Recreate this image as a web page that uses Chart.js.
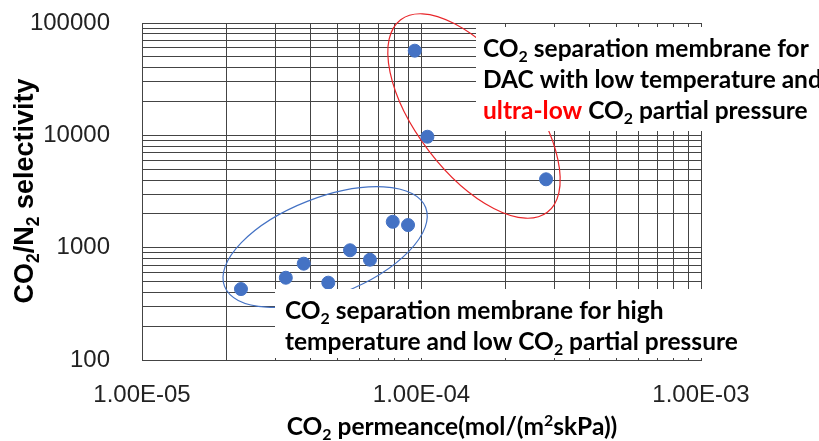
<!DOCTYPE html>
<html>
<head>
<meta charset="utf-8">
<script src="https://cdn.jsdelivr.net/npm/chart.js@4.4.1/dist/chart.umd.min.js"></script>
<style>
  body { margin: 0; background: #fff; }
  canvas { display: block; }
</style>
</head>
<body>
<canvas id="myChart" width="819" height="441"></canvas>
<script>
// CO2 permeance (mol/(m2 s kPa)) and CO2/N2 selectivity
var permeance   = [2.26e-5, 3.27e-5, 3.79e-5, 4.64e-5, 5.55e-5, 6.54e-5, 7.89e-5, 8.95e-5, 9.46e-5, 1.05e-4, 2.79e-4]
var selectivity = [428, 540, 720, 488, 948, 781, 1700, 1590, 56700, 9720, 4060]

var xTickVals   = [1e-5, 1e-4, 1e-3]
var xTickLabels = ['1.00E-05', '1.00E-04', '1.00E-03']
var yTickVals   = [100, 1000, 10000, 100000]
var yTickLabels = ['100', '1000', '10000', '100000']

// the two groups circled on the chart (centre in data units)
var blueGroup = { x: 4.52e-5, y: 1014 }
var redGroup  = { x: 1.541e-4, y: 14860 }

function labelFor(vals, labels, v) {
  for (var i = 0; i < vals.length; i++) {
    if (Math.abs(Math.log10(v) - Math.log10(vals[i])) < 1e-6) return labels[i]
  }
  return ''
}

// minor grid: 1..9 in every decade
function decadeTicks(fromExp, toExp) {
  var t = []
  for (var e = fromExp; e < toExp; e++) {
    for (var m = 1; m < 10; m++) t.push({ value: m * Math.pow(10, e) })
  }
  t.push({ value: Math.pow(10, toExp) })
  return t
}

function richWidth(ctx, parts, size, family) {
  var w = 0
  parts.forEach(function (p) {
    var s = (p.sub || p.sup) ? size * 0.65 : size
    ctx.font = 'bold ' + s + 'px ' + family
    w += ctx.measureText(p.t).width
  })
  return w
}

function richLine(ctx, x, y, parts, size, family) {
  var cx = x
  ctx.textAlign = 'left'
  ctx.textBaseline = 'alphabetic'
  parts.forEach(function (p) {
    var s = (p.sub || p.sup) ? size * 0.65 : size
    ctx.font = 'bold ' + s + 'px ' + family
    ctx.fillStyle = p.color || '#000'
    var dy = p.sub ? size * 0.22 : (p.sup ? -size * 0.36 : 0)
    ctx.fillText(p.t, cx, y + dy)
    cx += ctx.measureText(p.t).width
  })
}

function ellipse(ctx, chart, c, a, b, angle, color) {
  var px = chart.scales.x.getPixelForValue(c.x)
  var py = chart.scales.y.getPixelForValue(c.y)
  ctx.save()
  ctx.strokeStyle = color
  ctx.lineWidth = 1.2
  ctx.beginPath()
  ctx.ellipse(px, py, a, b, angle * Math.PI / 180, 0, 2 * Math.PI)
  ctx.stroke()
  ctx.restore()
}

var LATO = 'Lato, "Open Sans", sans-serif'
var ARIAL = '"Liberation Sans", Arial, sans-serif'

var notes = {
  id: 'notes',
  beforeDatasetsDraw: function (chart) {
    var ctx = chart.ctx
    ellipse(ctx, chart, blueGroup, 108, 49, -21.4, '#4472C4')
    ellipse(ctx, chart, redGroup, 121, 57, 52.7, '#E8262A')
  },
  afterDatasetsDraw: function (chart) {
    var ctx = chart.ctx
    ctx.save()
    ctx.fillStyle = '#fff'
    ctx.fillRect(476, 27, 343, 104)
    ctx.fillRect(275, 289, 470, 69)

    richLine(ctx, 483, 57, [{ t: 'CO' }, { t: '2', sub: true }, { t: ' separation membrane for' }], 24.5, LATO)
    richLine(ctx, 483, 88, [{ t: 'DAC with low temperature and' }], 24.5, LATO)
    richLine(ctx, 483, 119, [{ t: 'ultra-low', color: '#FF0000' }, { t: ' CO' }, { t: '2', sub: true }, { t: ' partial pressure' }], 24.5, LATO)

    richLine(ctx, 285, 319, [{ t: 'CO' }, { t: '2', sub: true }, { t: ' separation membrane for high' }], 24.5, LATO)
    richLine(ctx, 285, 350, [{ t: 'temperature and low CO' }, { t: '2', sub: true }, { t: ' partial pressure' }], 24.5, LATO)

    // x axis title
    var xt = [{ t: 'CO' }, { t: '2', sub: true }, { t: ' permeance(mol/(m' }, { t: '2', sup: true }, { t: 'skPa))' }]
    var w = richWidth(ctx, xt, 24.5, LATO)
    richLine(ctx, 452 - w / 2, 435, xt, 24.5, LATO)

    // y axis title
    var yt = [{ t: 'CO' }, { t: '2', sub: true }, { t: '/N' }, { t: '2', sub: true }, { t: ' selectivity' }]
    ctx.translate(33, 191)
    ctx.rotate(-Math.PI / 2)
    var wy = richWidth(ctx, yt, 27, ARIAL)
    richLine(ctx, -wy / 2, 0, yt, 27, ARIAL)
    ctx.restore()
  }
}

var ctx = document.getElementById('myChart').getContext('2d')
var chart = new Chart(ctx, {
  type: 'scatter',
  data: {
    datasets: [{
      data: permeance.map(function (x, i) { return { x: x, y: selectivity[i] } }),
      backgroundColor: '#4472C4',
      borderColor: '#4472C4',
      pointRadius: 6.5,
      pointHoverRadius: 6.5
    }]
  },
  options: {
    responsive: false,
    animation: false,
    layout: { padding: { left: 0, top: 23, right: 118, bottom: 0 } },
    plugins: { legend: { display: false }, tooltip: { enabled: false } },
    scales: {
      x: {
        type: 'logarithmic',
        min: 1e-5,
        max: 1e-3,
        afterFit: function (s) { s.height = 81; s.paddingLeft = 0; s.paddingRight = 0 },
        afterBuildTicks: function (s) { s.ticks = decadeTicks(-5, -3) },
        ticks: {
          autoSkip: false,
          maxRotation: 0,
          padding: 21,
          color: '#222',
          font: { family: ARIAL, size: 24 },
          callback: function (v) { return labelFor(xTickVals, xTickLabels, v) }
        },
        grid: { color: '#444', drawTicks: false },
        border: { color: '#444' }
      },
      y: {
        type: 'logarithmic',
        min: 100,
        max: 100000,
        afterFit: function (s) { s.width = 142; s.paddingTop = 0; s.paddingBottom = 0 },
        afterBuildTicks: function (s) { s.ticks = decadeTicks(2, 5) },
        ticks: {
          autoSkip: false,
          padding: 32,
          color: '#222',
          font: { family: ARIAL, size: 24 },
          callback: function (v) { return labelFor(yTickVals, yTickLabels, v) }
        },
        grid: { color: '#444', drawTicks: false },
        border: { color: '#444' }
      }
    }
  },
  plugins: [notes]
})
</script>
</body>
</html>
